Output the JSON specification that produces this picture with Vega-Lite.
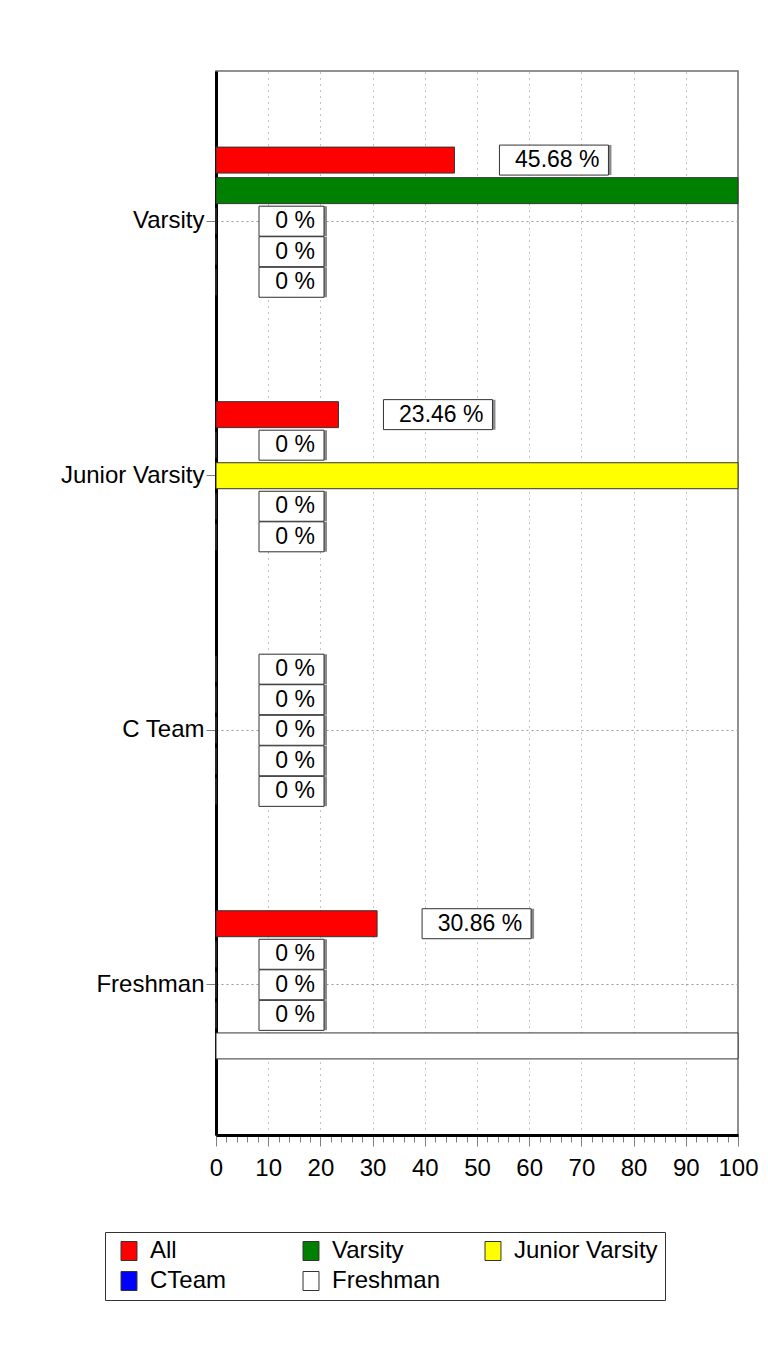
{
  "$schema": "https://vega.github.io/schema/vega-lite/v6.json",
  "autosize": {"type": "none"},
  "padding": {"left": 216, "top": 71, "right": 30, "bottom": 231},
  "width": 522,
  "height": 1064,
  "background": "white",
  "config": {
    "font": "Liberation Sans",
    "view": {"stroke": "#6e6e6e", "strokeWidth": 1.5}
  },
  "data": {
    "values": [
      {"group": "Varsity", "series": "All", "value": 45.68},
      {"group": "Varsity", "series": "Varsity", "value": 100},
      {"group": "Varsity", "series": "Junior Varsity", "value": 0},
      {"group": "Varsity", "series": "CTeam", "value": 0},
      {"group": "Varsity", "series": "Freshman", "value": 0},
      {"group": "Junior Varsity", "series": "All", "value": 23.46},
      {"group": "Junior Varsity", "series": "Varsity", "value": 0},
      {"group": "Junior Varsity", "series": "Junior Varsity", "value": 100},
      {"group": "Junior Varsity", "series": "CTeam", "value": 0},
      {"group": "Junior Varsity", "series": "Freshman", "value": 0},
      {"group": "C Team", "series": "All", "value": 0},
      {"group": "C Team", "series": "Varsity", "value": 0},
      {"group": "C Team", "series": "Junior Varsity", "value": 0},
      {"group": "C Team", "series": "CTeam", "value": 0},
      {"group": "C Team", "series": "Freshman", "value": 0},
      {"group": "Freshman", "series": "All", "value": 30.86},
      {"group": "Freshman", "series": "Varsity", "value": 0},
      {"group": "Freshman", "series": "Junior Varsity", "value": 0},
      {"group": "Freshman", "series": "CTeam", "value": 0},
      {"group": "Freshman", "series": "Freshman", "value": 100}
    ]
  },
  "encoding": {
    "y": {
      "field": "group",
      "type": "nominal",
      "sort": ["Varsity", "Junior Varsity", "C Team", "Freshman"],
      "scale": {"paddingInner": 0.4, "paddingOuter": 0.29},
      "axis": {
        "title": null,
        "domainColor": "black",
        "domainWidth": 3,
        "tickColor": "#808080",
        "tickSize": 10,
        "bandPosition": 0.5,
        "grid": true,
        "gridDash": [2, 3],
        "gridColor": "#999999",
        "labelFont": "Liberation Sans",
        "labelFontSize": 24,
        "labelColor": "black",
        "labelPadding": 2
      }
    },
    "yOffset": {
      "field": "series",
      "type": "nominal",
      "sort": ["All", "Varsity", "Junior Varsity", "CTeam", "Freshman"],
      "scale": {"paddingInner": 0.15, "paddingOuter": 0.075}
    },
    "x": {
      "field": "value",
      "type": "quantitative",
      "scale": {"domain": [0, 100], "nice": false},
      "axis": {
        "title": null,
        "values": [0,2,4,6,8,10,12,14,16,18,20,22,24,26,28,30,32,34,36,38,40,42,44,46,48,50,52,54,56,58,60,62,64,66,68,70,72,74,76,78,80,82,84,86,88,90,92,94,96,98,100],
        "labelExpr": "datum.value % 10 === 0 ? datum.label : ''",
        "labelOverlap": false,
        "labelFlush": false,
        "tickSize": {"condition": {"test": "datum.value % 10 === 0", "value": 11}, "value": 7},
        "tickColor": "#808080",
        "domainColor": "black",
        "domainWidth": 3,
        "grid": true,
        "gridDash": [1, 5],
        "gridColor": "#888888",
        "gridOpacity": {"condition": {"test": "datum.value % 10 === 0", "value": 1}, "value": 0},
        "labelFont": "Liberation Sans",
        "labelFontSize": 24,
        "labelColor": "black",
        "labelPadding": 10
      }
    }
  },
  "layer": [
    {
      "mark": {"type": "bar", "stroke": "#333333", "strokeWidth": 1},
      "encoding": {
        "color": {
          "field": "series",
          "type": "nominal",
          "scale": {
            "domain": ["All", "Varsity", "Junior Varsity", "CTeam", "Freshman"],
            "range": ["#FF0000", "#008000", "#FFFF00", "#0000FF", "#FFFFFF"]
          },
          "legend": {
            "title": null,
            "orient": "none",
            "direction": "horizontal",
            "legendX": -111,
            "legendY": 1161,
            "columns": 3,
            "gridAlign": "all",
            "columnPadding": 0,
            "rowPadding": 6,
            "padding": 7,
            "symbolOffset": 5,
            "strokeColor": "#333333",
            "fillColor": "white",
            "symbolType": "M-0.84,-1H0.84V1H-0.84Z",
            "symbolSize": 361,
            "symbolStrokeColor": "#333333",
            "symbolStrokeWidth": 1,
            "symbolOpacity": 1,
            "labelFont": "Liberation Sans",
            "labelFontSize": 24,
            "labelColor": "black",
            "labelOffset": 9,
            "labelLimit": 300
          }
        }
      }
    },
    {
      "transform": [{"filter": "datum.value == 0"}],
      "mark": {"type": "rect", "fill": "#8a8a8a", "xOffset": 46, "x2Offset": 111, "height": 30, "yOffset": 3},
      "encoding": {"x2": {"field": "value"}}
    },
    {
      "transform": [{"filter": "datum.value > 0 && datum.value < 100"}],
      "mark": {"type": "rect", "fill": "#8a8a8a", "xOffset": 48, "x2Offset": 157, "height": 30, "yOffset": 3},
      "encoding": {"x2": {"field": "value"}}
    },
    {
      "transform": [{"filter": "datum.value == 0"}],
      "mark": {"type": "rect", "fill": "white", "stroke": "#333333", "strokeWidth": 1, "xOffset": 43, "x2Offset": 108, "height": 30},
      "encoding": {"x2": {"field": "value"}}
    },
    {
      "transform": [{"filter": "datum.value > 0 && datum.value < 100"}],
      "mark": {"type": "rect", "fill": "white", "stroke": "#333333", "strokeWidth": 1, "xOffset": 45, "x2Offset": 154, "height": 30},
      "encoding": {"x2": {"field": "value"}}
    },
    {
      "transform": [{"filter": "datum.value == 0"}],
      "mark": {"type": "text", "align": "right", "baseline": "middle", "font": "Liberation Sans", "fontSize": 23, "color": "black", "xOffset": 99, "text": {"expr": "format(datum.value, '.2~f') + ' %'"}}
    },
    {
      "transform": [{"filter": "datum.value > 0 && datum.value < 100"}],
      "mark": {"type": "text", "align": "right", "baseline": "middle", "font": "Liberation Sans", "fontSize": 23, "color": "black", "xOffset": 145, "text": {"expr": "format(datum.value, '.2~f') + ' %'"}}
    }
  ]
}
